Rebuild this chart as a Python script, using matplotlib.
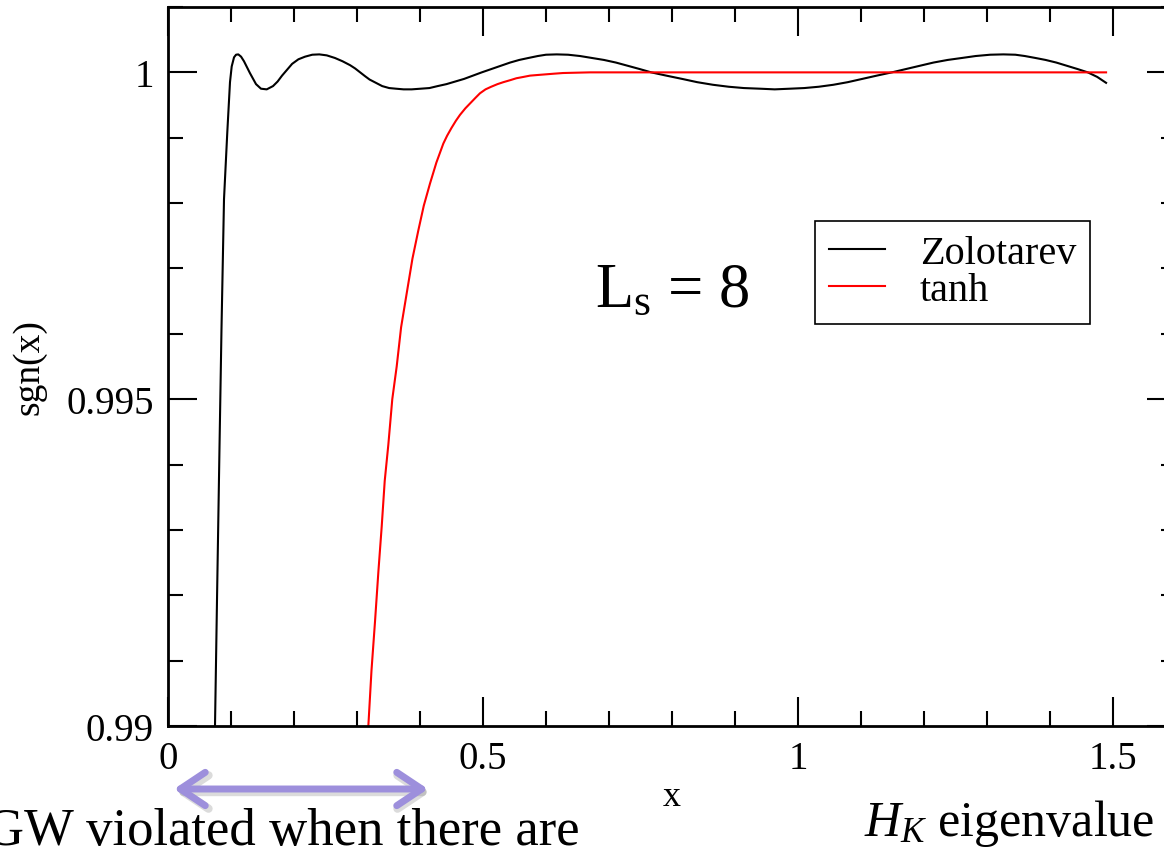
import matplotlib
matplotlib.use("Agg")
import matplotlib.pyplot as plt
from matplotlib.ticker import MultipleLocator, FixedLocator, FixedFormatter

plt.rcParams['font.family'] = ['Liberation Serif', 'DejaVu Serif']
plt.rcParams['mathtext.fontset'] = 'custom'
plt.rcParams['mathtext.rm'] = 'Liberation Serif'
plt.rcParams['mathtext.it'] = 'Liberation Serif:italic'

# values
zolo_x = [0.0746, 0.0778, 0.0817, 0.0849, 0.0889, 0.0941, 0.0984, 0.1011, 0.1048,
          0.1080, 0.1116, 0.1160, 0.1206, 0.1300, 0.1397, 0.1476, 0.1567, 0.1667,
          0.1740, 0.1810, 0.1890, 0.1970, 0.2070, 0.2175, 0.2290, 0.2402, 0.2520,
          0.2650, 0.2770, 0.2890, 0.2970, 0.3050, 0.3130, 0.3200, 0.3300, 0.3400,
          0.3510, 0.3620, 0.3740, 0.3868, 0.4010, 0.4150, 0.4280, 0.4420, 0.4560,
          0.4700, 0.4840, 0.4980, 0.5130, 0.5280, 0.5430, 0.5575, 0.5720, 0.5870,
          0.6000, 0.6170, 0.6350, 0.6540, 0.6730, 0.6920, 0.7110, 0.7300, 0.7490,
          0.7670, 0.7910, 0.8160, 0.8400, 0.8650, 0.8900, 0.9140, 0.9400, 0.9630,
          0.9870, 1.0100, 1.0330, 1.0560, 1.0790, 1.1020, 1.1250, 1.1490, 1.1710,
          1.1930, 1.2150, 1.2375, 1.2600, 1.2820, 1.3050, 1.3260, 1.3450, 1.3600,
          1.3770, 1.3930, 1.4100, 1.4270, 1.4440, 1.4600, 1.4750, 1.4890]
zolo_y = [0.99000, 0.99194, 0.99424, 0.99607, 0.99806, 0.99908, 0.99985, 1.00009, 1.00023,
          1.00027, 1.000275, 1.00024, 1.00017, 0.99999, 0.99982, 0.99975, 0.99974, 0.99979,
          0.99986, 0.99995, 1.00004, 1.00013, 1.00020, 1.00024, 1.00027, 1.000275, 1.00026,
          1.00022, 1.00017, 1.00011, 1.00006, 1.00000, 0.99994, 0.99989, 0.99984, 0.99979,
          0.99976, 0.99975, 0.99974, 0.99974, 0.99975, 0.99976, 0.99979, 0.99982, 0.99986,
          0.99990, 0.99995, 1.00000, 1.00005, 1.00010, 1.00015, 1.00019, 1.00022, 1.00025,
          1.00027, 1.000275, 1.00027, 1.00025, 1.00022, 1.00019, 1.00015, 1.00010, 1.00005,
          1.00000, 0.99995, 0.99990, 0.99985, 0.99981, 0.99978, 0.99976, 0.99975, 0.99974,
          0.99975, 0.99976, 0.99978, 0.99981, 0.99985, 0.99990, 0.99995, 1.00000, 1.00005,
          1.00010, 1.00015, 1.00019, 1.00022, 1.00025, 1.00027, 1.000275, 1.00027, 1.00025,
          1.00022, 1.00019, 1.00015, 1.00010, 1.00005, 1.00000, 0.99993, 0.99984]

tanh_x = [0.3180, 0.3230, 0.3286, 0.3340, 0.3392, 0.3440, 0.3497, 0.3560, 0.3630,
          0.3700, 0.3789, 0.3880, 0.3973, 0.4060, 0.4159, 0.4260, 0.4370, 0.4430,
          0.4500, 0.4570, 0.4635, 0.4720, 0.4800, 0.4880, 0.4952, 0.5040, 0.5130,
          0.5230, 0.5323, 0.5430, 0.5530, 0.5640, 0.5746, 0.5870, 0.6000, 0.6130,
          0.6270, 0.6480, 0.6700, 1.4890]
tanh_y = [0.99000, 0.99085, 0.99160, 0.99237, 0.99305, 0.99375, 0.99430, 0.99500, 0.99550,
          0.99610, 0.99662, 0.99715, 0.99758, 0.99796, 0.99830, 0.99862, 0.99891, 0.99903,
          0.99915, 0.99926, 0.99935, 0.99945, 0.99953, 0.99961, 0.99968, 0.99974, 0.99978,
          0.99982, 0.99985, 0.99988, 0.99991, 0.99993, 0.99995, 0.99996, 0.99997, 0.99998,
          0.99999, 0.999995, 1.00000, 1.00000]

xticks = [0, 0.5, 1, 1.5]
xtick_labels = ['0', '0.5', '1', '1.5']
yticks = [0.99, 0.995, 1.0]
ytick_labels = ['0.99', '0.995', '1']

W, H = 1164, 854
fig = plt.figure(figsize=(W / 100, H / 100), dpi=100)
ax = fig.add_axes([168 / W, 127 / H, 1008 / W, 719 / H])

ax.plot(zolo_x, zolo_y, color='black', lw=1.5, label='Zolotarev')
ax.plot(tanh_x, tanh_y, color='red', lw=1.5, label='tanh')

ax.set_xlim(0, 1.6)
ax.set_ylim(0.99, 1.001)
ax.xaxis.set_major_locator(FixedLocator(xticks))
ax.xaxis.set_major_formatter(FixedFormatter(xtick_labels))
ax.xaxis.set_minor_locator(MultipleLocator(0.1))
ax.yaxis.set_major_locator(FixedLocator(yticks))
ax.yaxis.set_major_formatter(FixedFormatter(ytick_labels))
ax.yaxis.set_minor_locator(MultipleLocator(0.001))

ax.tick_params(which='both', direction='in', top=True, right=True, width=1.5,
               labelsize=28, pad=10)
ax.tick_params(which='major', length=21)
ax.tick_params(which='minor', length=11)
for s in ax.spines.values():
    s.set_linewidth(2)

ax.set_xlabel('x', fontsize=26, labelpad=2)
ax.set_ylabel('sgn(x)', fontsize=27)
ax.yaxis.set_label_coords(-0.121, 0.5)

leg = ax.legend(loc='upper left', bbox_to_anchor=((815 - 168) / 1008, 1 - (222 - 8) / 719),
                fontsize=29, frameon=True, fancybox=False, framealpha=1,
                edgecolor='black', labelspacing=0.0, handlelength=1.4,
                handletextpad=0.85, borderpad=0.35, borderaxespad=0)
leg.get_frame().set_linewidth(1.2)

fig.text(595 / W, 1 - 307 / H, r'L$_{\mathrm{s}}$ = 8', fontsize=45, va='baseline')

# lavender double arrow under the x axis, with a faint shadow
arrow_y = 1 - 790 / H
ax.annotate('', xy=(430 / W, arrow_y - 3 / H), xytext=(176 / W, arrow_y - 3 / H),
            xycoords='figure fraction', textcoords='figure fraction',
            arrowprops=dict(arrowstyle='<->, head_length=0.9, head_width=0.6',
                            color='#888888', alpha=0.3, lw=6, mutation_scale=20,
                            capstyle='round', joinstyle='round',
                            shrinkA=0, shrinkB=0),
            annotation_clip=False)
ax.annotate('', xy=(428 / W, arrow_y), xytext=(174 / W, arrow_y),
            xycoords='figure fraction', textcoords='figure fraction',
            arrowprops=dict(arrowstyle='<->, head_length=0.9, head_width=0.6',
                            color='#9d8fdc', lw=5, mutation_scale=20,
                            capstyle='round', joinstyle='round',
                            shrinkA=0, shrinkB=0),
            annotation_clip=False)

fig.text(-14 / W, 1 - 845 / H, 'GW violated when there are', fontsize=38, va='baseline')
fig.text(864 / W, 1 - 836 / H, r'$H_K$ eigenvalue', fontsize=36, va='baseline')

fig.savefig('out.png', dpi=100)
